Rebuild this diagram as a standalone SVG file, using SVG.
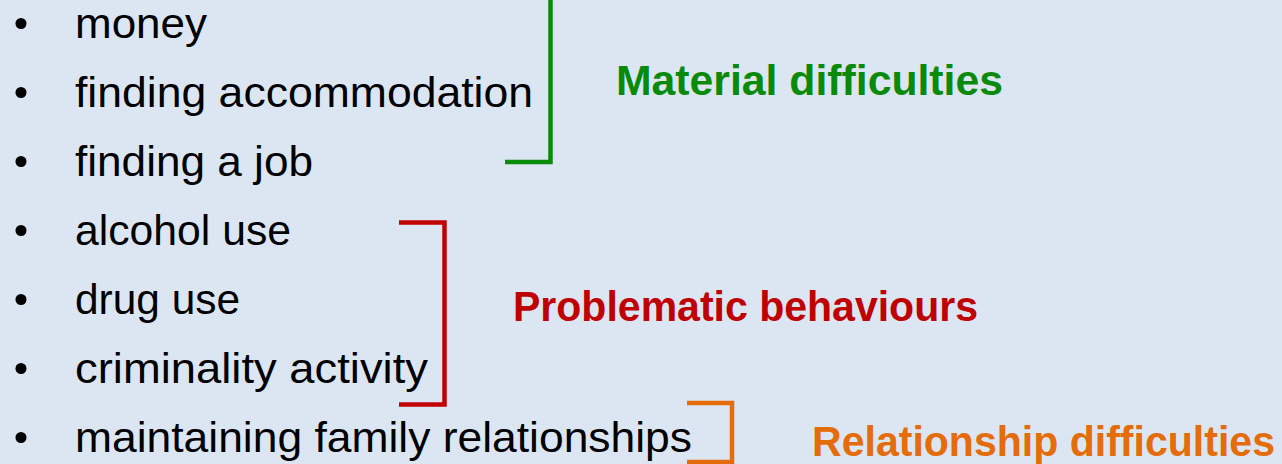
<svg xmlns="http://www.w3.org/2000/svg" width="1282" height="464" viewBox="0 0 1282 464">
<style>
.item{font-family:"Liberation Sans",Arial,sans-serif;font-size:42px;fill:#000}
.lbl{font-family:"Liberation Sans",Arial,sans-serif;font-size:42px;font-weight:bold}
.br{fill:none;stroke-width:4.5;stroke-linejoin:miter}
</style>
<rect width="1282" height="464" fill="#DCE6F2"/>
<g id="items">
<g id="item-money"><circle cx="21" cy="23.5" r="5.5"/><text class="item" x="75" y="38" textLength="132" lengthAdjust="spacingAndGlyphs">money</text></g>
<g id="item-accommodation"><circle cx="21" cy="92.5" r="5.5"/><text class="item" x="75" y="107" textLength="458" lengthAdjust="spacingAndGlyphs">finding accommodation</text></g>
<g id="item-job"><circle cx="21" cy="161.5" r="5.5"/><text class="item" x="75" y="176" textLength="238" lengthAdjust="spacingAndGlyphs">finding a job</text></g>
<g id="item-alcohol"><circle cx="21" cy="230.5" r="5.5"/><text class="item" x="75" y="245" textLength="216" lengthAdjust="spacingAndGlyphs">alcohol use</text></g>
<g id="item-drug"><circle cx="21" cy="299.5" r="5.5"/><text class="item" x="75" y="314" textLength="165" lengthAdjust="spacingAndGlyphs">drug use</text></g>
<g id="item-criminality"><circle cx="21" cy="368.5" r="5.5"/><text class="item" x="75" y="383" textLength="353" lengthAdjust="spacingAndGlyphs">criminality activity</text></g>
<g id="item-family"><circle cx="21" cy="437.5" r="5.5"/><text class="item" x="75" y="452" textLength="617" lengthAdjust="spacingAndGlyphs">maintaining family relationships</text></g>
</g>
<g id="connectors">
<polyline class="br" stroke="#0A8A0A" points="550.5,-2 550.5,162 505,162"/>
<polyline class="br" stroke="#C00000" points="399,222.5 444.5,222.5 444.5,404.5 399,404.5"/>
<polyline class="br" stroke="#E46C0A" points="687,403 732,403 732,462 687,462"/>
</g>
<g id="label-material"><text class="lbl" fill="#0A8A0A" x="616" y="95" textLength="387" lengthAdjust="spacingAndGlyphs">Material difficulties</text></g>
<g id="label-problematic"><text class="lbl" fill="#C00000" x="513" y="321" textLength="465" lengthAdjust="spacingAndGlyphs">Problematic behaviours</text></g>
<g id="label-relationship"><text class="lbl" fill="#E46C0A" x="812" y="456" textLength="463" lengthAdjust="spacingAndGlyphs">Relationship difficulties</text></g>
</svg>
